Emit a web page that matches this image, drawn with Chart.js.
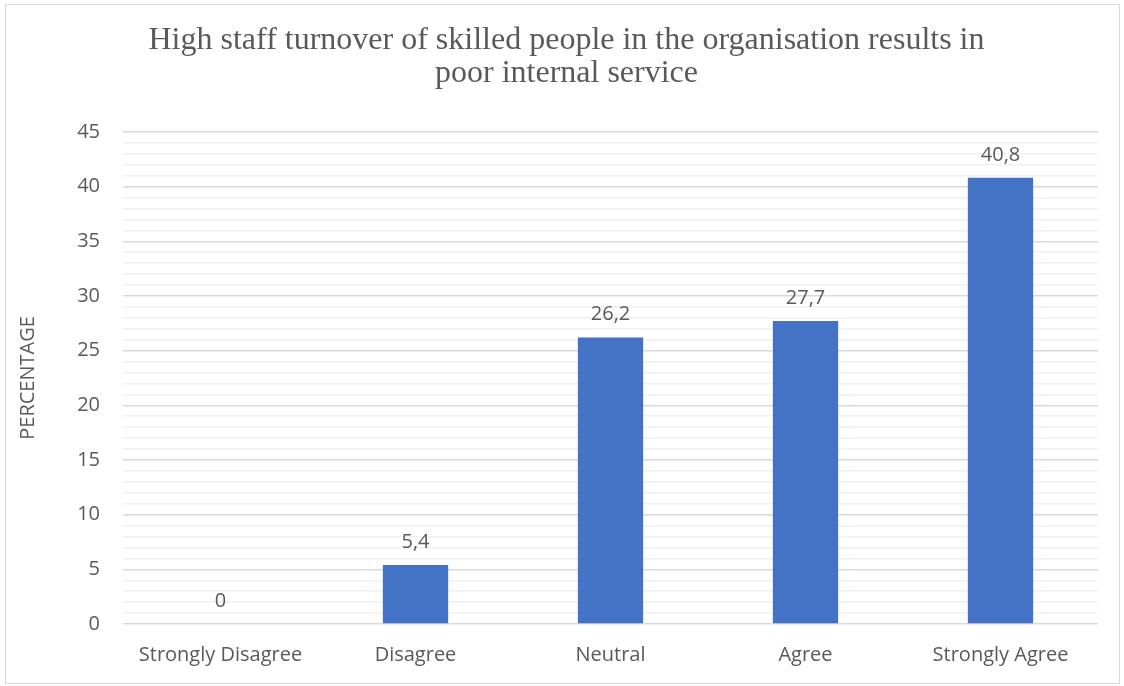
<!DOCTYPE html>
<html>
<head>
<meta charset="utf-8">
<script src="https://cdn.jsdelivr.net/npm/chart.js@4.4.1/dist/chart.umd.min.js"></script>
<style>
  html, body { margin: 0; padding: 0; background: #fff; }
  #wrap {
    position: absolute; left: 5px; top: 4px;
    width: 1113px; height: 678px;
    border: 1px solid #d9d9d9;
  }
</style>
</head>
<body>
<div id="wrap"><canvas id="chart" width="1113" height="678"></canvas></div>
<script>
const categories = ["Strongly Disagree", "Disagree", "Neutral", "Agree", "Strongly Agree"];
const percentages = [0, 5.4, 26.2, 27.7, 40.8];
const titleLines = ["High staff turnover of skilled people in the organisation results in", "poor internal service"];
const axisTitle = "PERCENTAGE";

const textGrey = "#595959";
const barBlue = "#4472C4";

// value labels above bars, comma as decimal separator like the source
const valueLabels = {
  id: "valueLabels",
  afterDatasetsDraw(chart) {
    const { ctx } = chart;
    const meta = chart.getDatasetMeta(0);
    ctx.save();
    ctx.font = "20px 'Open Sans'";
    ctx.fillStyle = textGrey;
    ctx.textAlign = "center";
    ctx.textBaseline = "middle";
    meta.data.forEach((bar, i) => {
      const txt = String(percentages[i]).replace(".", ",");
      ctx.fillText(txt, bar.x, bar.y - 23);
    });
    ctx.restore();
  }
};

new Chart(document.getElementById("chart").getContext("2d"), {
  type: "bar",
  data: {
    labels: categories,
    datasets: [{
      data: percentages,
      backgroundColor: barBlue,
      borderWidth: 0,
      categoryPercentage: 1,
      barPercentage: 0.335
    }]
  },
  options: {
    responsive: false,
    animation: false,
    layout: { padding: { left: 29, right: 21, bottom: 0 } },
    plugins: {
      legend: { display: false },
      tooltip: { enabled: false },
      title: {
        display: true,
        text: titleLines,
        color: textGrey,
        font: { family: "'Liberation Serif', 'Times New Roman', serif", size: 32, weight: "normal", lineHeight: 1.03 },
        padding: { top: 19, bottom: 42 }
      }
    },
    scales: {
      x: {
        grid: { display: false, drawTicks: false },
        border: { display: false },
        ticks: { color: textGrey, font: { family: "'Open Sans'", size: 20 }, padding: 19, maxRotation: 0 },
        afterFit(scale) { scale.height = 59; }
      },
      y: {
        min: 0,
        max: 45,
        border: { display: false },
        grid: {
          drawTicks: false,
          color: ctx => (ctx.tick && ctx.tick.value % 5 === 0) ? "#d9d9d9" : "#f0f0f0",
          lineWidth: 1.5
        },
        ticks: {
          stepSize: 1,
          autoSkip: false,
          color: textGrey,
          font: { family: "'Open Sans'", size: 20 },
          padding: 23,
          callback: v => (v % 5 === 0 ? v : "")
        },
        title: {
          display: true,
          text: axisTitle,
          color: textGrey,
          font: { family: "'Open Sans'", size: 20 },
          padding: { top: -19, bottom: 0 }
        },
        afterFit(scale) { scale.width = 88; }
      }
    }
  },
  plugins: [valueLabels]
});
</script>
</body>
</html>
